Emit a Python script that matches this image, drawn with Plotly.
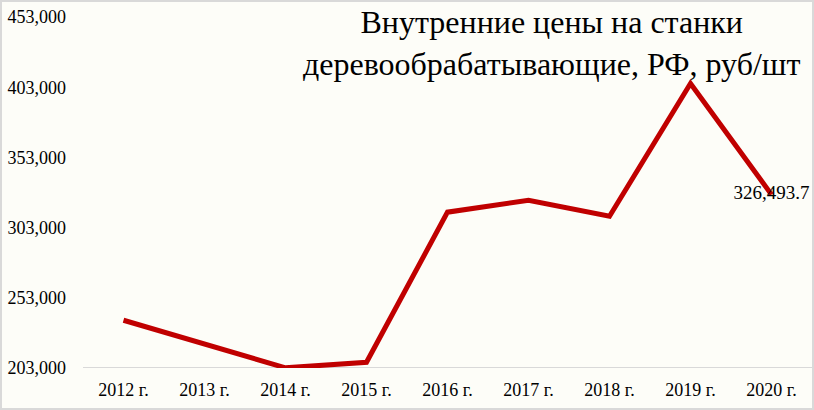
import plotly.graph_objects as go

years = ["2012 г.", "2013 г.", "2014 г.", "2015 г.", "2016 г.", "2017 г.", "2018 г.", "2019 г.", "2020 г."]
prices = [237000, 219700, 203100, 207100, 314000, 322500, 311100, 405600, 326493.7]
y_ticks = [203000, 253000, 303000, 353000, 403000, 453000]
title_lines = ["Внутренние цены на станки", "деревообрабатывающие, РФ, руб/шт"]
last_label = "326,493.7"

W, H = 814, 410
ml, mr, mt, mb = 83, 2, 17, 42
pw, ph = W - ml - mr, H - mt - mb
font_family = "Liberation Serif"

fig = go.Figure()
fig.add_trace(go.Scatter(
    x=years, y=prices, mode="lines",
    line=dict(color="#C00000", width=5),
    hoverinfo="skip", showlegend=False,
))
fig.add_trace(go.Scatter(
    x=[years[-1]], y=[prices[-1]], mode="text",
    text=[last_label], textposition="middle center", cliponaxis=False,
    textfont=dict(family=font_family, size=19, color="#000000"),
    showlegend=False, hoverinfo="skip",
))

fig.add_annotation(
    xref="paper", yref="paper", x=0.642, y=1.042, xanchor="center", yanchor="top",
    text="<br>".join(title_lines), showarrow=False, align="center",
    font=dict(family=font_family, size=32, color="#000000"),
)

fig.add_shape(
    type="rect", xref="paper", yref="paper",
    x0=-(ml - 1) / pw, x1=(pw + mr - 1) / pw,
    y0=-(mb - 1) / ph, y1=(ph + mt - 1) / ph,
    line=dict(color="#D9D9D9", width=2), fillcolor="rgba(0,0,0,0)", layer="below",
)

tick_font = dict(family=font_family, size=18, color="#000000")
fig.update_layout(
    width=W, height=H,
    margin=dict(l=ml, r=mr, t=mt, b=mb),
    paper_bgcolor="#FDFDF8", plot_bgcolor="#FDFDF8",
    font=dict(family=font_family, size=18, color="#000000"),
    xaxis=dict(
        type="category", showgrid=False, zeroline=False,
        showline=False, ticks="", tickfont=tick_font,
        range=[-0.5, len(years) - 0.5], ticklabelstandoff=9,
    ),
    yaxis=dict(
        range=[y_ticks[0], y_ticks[-1]], tickvals=y_ticks,
        tickformat=",", showgrid=False, zeroline=False, showline=False,
        ticks="", tickfont=tick_font, ticklabelstandoff=16,
    ),
)
fig.add_shape(
    type="line", xref="paper", yref="y", x0=0, x1=1, y0=y_ticks[0], y1=y_ticks[0],
    line=dict(color="#D9D9D9", width=2), layer="below",
)

fig.write_html(
    "out.html",
    config={"displayModeBar": False},
    post_script="document.body.style.margin='0';document.body.style.padding='0';document.body.style.overflow='hidden';",
)
